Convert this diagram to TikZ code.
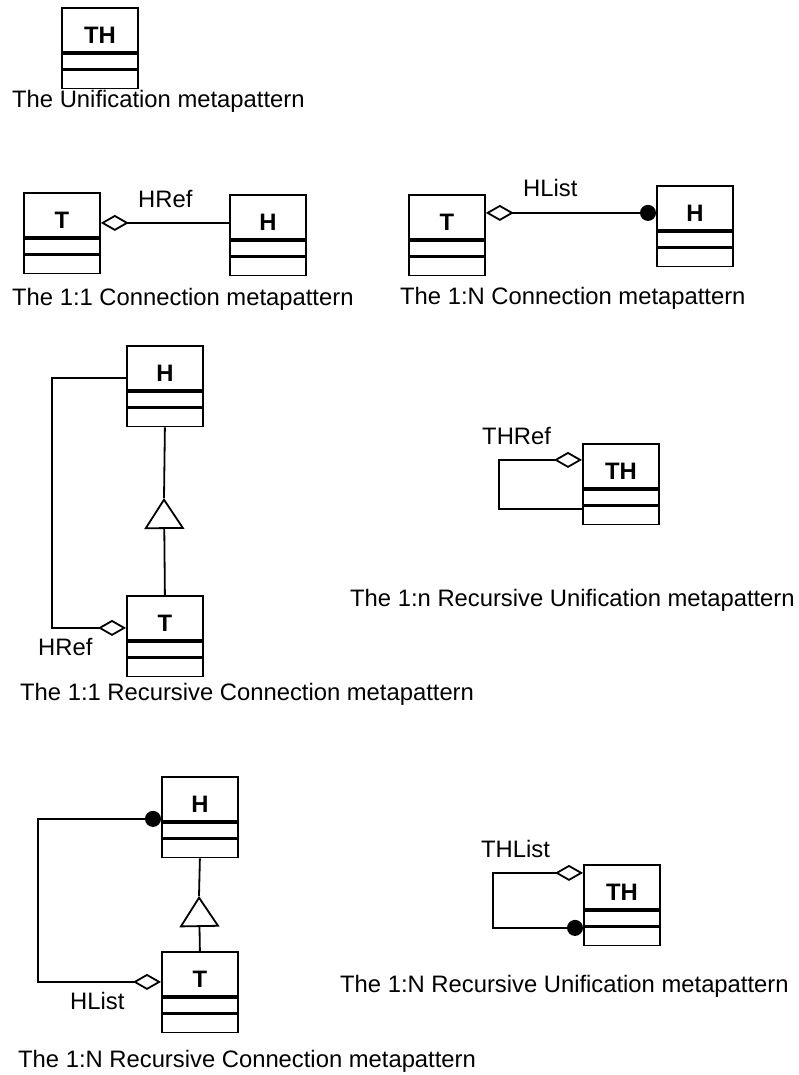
\documentclass[tikz,border=0pt]{standalone}
\usepackage{fontspec}
\setmainfont{Liberation Sans}
\usetikzlibrary{positioning,arrows.meta}

\tikzset{
  clshead/.style={draw, line width=1.8pt, minimum width=76pt, minimum height=44pt,
    inner sep=0pt, text height=28pt, text depth=0pt, anchor=north west,
    font=\fontsize{23.8}{28}\bfseries\selectfont},
  clspart/.style={draw, line width=1.8pt, minimum width=76pt, inner sep=0pt},
  lbl/.style={anchor=base west, inner sep=0pt, font=\fontsize{23.8}{28}\selectfont},
  hasone/.style={line width=1.8pt, {Diamond[open,length=28pt,width=16pt]}-},
  hasmany/.style={line width=1.8pt, {Diamond[open,length=28pt,width=16pt]}-{Circle[length=16pt]}},
  isa/.style={line width=1.8pt, -{Triangle[open,length=31pt,width=40pt]}}
}

\begin{document}
\begin{tikzpicture}[x=1pt,y=-1pt]
	\useasboundingbox (0,0) rectangle (798,1075);

	% unification
	\node[clshead] (th1) at (61,7) {TH};
	\node[clspart, minimum height=15pt, below=0pt of th1] (th1b) {};
	\node[clspart, minimum height=18pt, below=0pt of th1b] (th1c) {};
	\node[lbl] (cap1) at (12,108) {The Unification metapattern};

	% 1:1 connection
	\node[clshead] (t2) at (23,192) {T};
	\node[clspart, minimum height=15pt, below=0pt of t2] (t2b) {};
	\node[clspart, minimum height=18pt, below=0pt of t2b] (t2c) {};
	\node[clshead] (h2) at (229,194) {H};
	\node[clspart, minimum height=15pt, below=0pt of h2] (h2b) {};
	\node[clspart, minimum height=18pt, below=0pt of h2b] (h2c) {};
	\coordinate (r2) at ([yshift=-6pt]h2.west);
	\draw[hasone] (r2 -| t2.east) -- (r2);
	\node[lbl] (l2) at (138,208) {HRef};
	\node[lbl] (cap2) at (12,305) {The 1:1 Connection metapattern};

	% 1:N connection
	\node[clshead] (t4) at (408,194) {T};
	\node[clspart, minimum height=15pt, below=0pt of t4] (t4b) {};
	\node[clspart, minimum height=18pt, below=0pt of t4b] (t4c) {};
	\node[clshead] (h5) at (656,185) {H};
	\node[clspart, minimum height=15pt, below=0pt of h5] (h5b) {};
	\node[clspart, minimum height=18pt, below=0pt of h5b] (h5c) {};
	\coordinate (r4) at ([yshift=-5pt]h5.west);
	\draw[hasmany] (r4 -| t4.east) -- (r4);
	\node[lbl] (l4) at (523,197) {HList};
	\node[lbl] (cap4) at (400,304) {The 1:N Connection metapattern};

	% 1:1 recursive connection
	\node[clshead] (h6) at (126,345) {H};
	\node[clspart, minimum height=15pt, below=0pt of h6] (h6b) {};
	\node[clspart, minimum height=18pt, below=0pt of h6b] (h6c) {};
	\node[clshead] (t7) at (126,595) {T};
	\node[clspart, minimum height=15pt, below=0pt of t7] (t7b) {};
	\node[clspart, minimum height=18pt, below=0pt of t7b] (t7c) {};
	\coordinate (g6) at (164,498);
	\draw[isa] (t7.north) -- (g6);
	\draw[line width=1.8pt] (g6) -- (h6c.south);
	\draw[hasone] ([yshift=-10pt]t7.west) -- ++(-74,0) |- ([yshift=-10pt]h6.west);
	\node[lbl] (l6) at (38,655) {HRef};
	\node[lbl] (cap6) at (20,700) {The 1:1 Recursive Connection metapattern};

	% 1:n recursive unification
	\node[clshead] (th8) at (582,443) {TH};
	\node[clspart, minimum height=15pt, below=0pt of th8] (th8b) {};
	\node[clspart, minimum height=18pt, below=0pt of th8b] (th8c) {};
	\draw[hasone] ([yshift=6pt]th8.west) -- ++(-83,0) |- ([yshift=-43pt]th8.west);
	\node[lbl] (l8) at (482,444) {THRef};
	\node[lbl] (cap8) at (350,606) {The 1:n Recursive Unification metapattern};

	% 1:N recursive connection
	\node[clshead] (h9) at (161,776) {H};
	\node[clspart, minimum height=15pt, below=0pt of h9] (h9b) {};
	\node[clspart, minimum height=18pt, below=0pt of h9b] (h9c) {};
	\node[clshead] (t10) at (161,951) {T};
	\node[clspart, minimum height=15pt, below=0pt of t10] (t10b) {};
	\node[clspart, minimum height=18pt, below=0pt of t10b] (t10c) {};
	\coordinate (g9) at (199,896);
	\draw[isa] (t10.north) -- (g9);
	\draw[line width=1.8pt] (g9) -- (h9c.south);
	\draw[hasmany] ([yshift=-8pt]t10.west) -- ++(-123,0) |- ([yshift=-20pt]h9.west);
	\node[lbl] (l9) at (70,1009) {HList};
	\node[lbl] (cap9) at (18,1067) {The 1:N Recursive Connection metapattern};

	% 1:N recursive unification
	\node[clshead] (th11) at (583,864) {TH};
	\node[clspart, minimum height=15pt, below=0pt of th11] (th11b) {};
	\node[clspart, minimum height=18pt, below=0pt of th11b] (th11c) {};
	\draw[hasmany] ([yshift=14pt]th11.west) -- ++(-90,0) |- ([yshift=-41pt]th11.west);
	\node[lbl] (l11) at (481,857) {THList};
	\node[lbl] (cap11) at (340,992) {The 1:N Recursive Unification metapattern};
\end{tikzpicture}
\end{document}
